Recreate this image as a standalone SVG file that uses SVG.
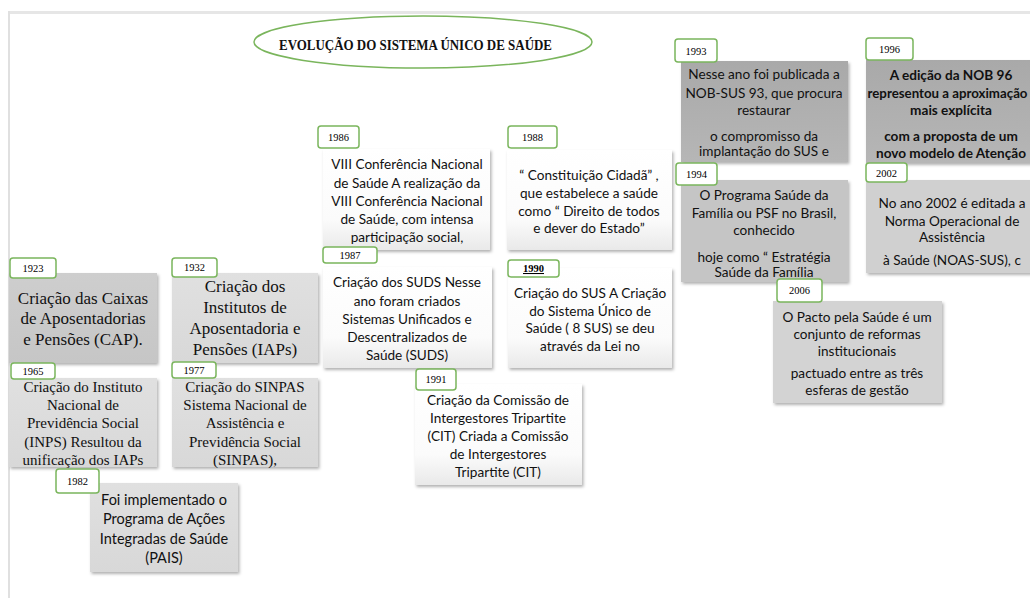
<svg xmlns="http://www.w3.org/2000/svg" width="1030" height="598" viewBox="0 0 1030 598">
<defs>
<filter id="sh" x="-10%" y="-10%" width="125%" height="130%">
<feDropShadow dx="1.5" dy="2" stdDeviation="1.4" flood-color="#000" flood-opacity="0.3"/>
</filter>
<linearGradient id="gW" x1="0" y1="0" x2="0" y2="1"><stop offset="0" stop-color="#ffffff"/><stop offset="0.7" stop-color="#fbfbfb"/><stop offset="1" stop-color="#e9e9e9"/></linearGradient>
<linearGradient id="gMid" x1="0" y1="0" x2="0" y2="1"><stop offset="0" stop-color="#cecece"/><stop offset="1" stop-color="#c6c6c6"/></linearGradient>
<linearGradient id="gLt" x1="0" y1="0" x2="0" y2="1"><stop offset="0" stop-color="#e0e0e0"/><stop offset="1" stop-color="#d8d8d8"/></linearGradient>
<linearGradient id="gDk" x1="0" y1="0" x2="0" y2="1"><stop offset="0" stop-color="#a9a9a9"/><stop offset="1" stop-color="#b6b6b6"/></linearGradient>
</defs>
<style>
.lab{fill:#ffffff;stroke:#7ab55c;stroke-width:1.5}
.labt{font-family:"Liberation Serif",serif;font-size:10.5px;fill:#000;text-anchor:middle}
.bx{filter:url(#sh)}
.w{fill:url(#gW)}
.mid{fill:url(#gMid)}
.lt{fill:url(#gLt)}
.dk{fill:url(#gDk)}
.serif17{font-family:"Liberation Serif",serif;font-size:17px;fill:#111;text-anchor:middle}
.serif15{font-family:"Liberation Serif",serif;font-size:15px;fill:#111;text-anchor:middle}
.sans{font-family:Lato,"Open Sans",sans-serif;font-size:13.6px;fill:#111;text-anchor:middle}
.sans15{font-family:Lato,"Open Sans",sans-serif;font-size:14.5px;fill:#111;text-anchor:middle}
.b{font-weight:bold}
</style>
<rect x="8" y="11" width="1022" height="3" fill="#e6e6e6"/>
<rect x="8" y="11" width="2" height="587" fill="#e0e0e0"/>

<g id="title">
<ellipse cx="423" cy="42" rx="169" ry="26" fill="#ffffff" stroke="#7ab55c" stroke-width="1.5"/>
<text x="415.5" y="50" font-family="'Liberation Serif',serif" font-size="14.5" font-weight="bold" text-anchor="middle" textLength="273" lengthAdjust="spacingAndGlyphs" fill="#111">EVOLUÇÃO DO  SISTEMA ÚNICO DE SAÚDE</text>
</g>

<g id="connectors"></g>

<g id="n1923">
<rect class="bx mid" x="9" y="273" width="148" height="90"/>
<rect class="lab" x="10" y="258" width="46" height="20" rx="3"/>
<text class="labt" x="33" y="272">1923</text>
<text class="serif17" x="83"><tspan x="83" y="304">Criação das Caixas</tspan><tspan x="83" y="324">de Aposentadorias</tspan><tspan x="83" y="345">e Pensões (CAP).</tspan></text>
</g>

<g id="n1932">
<rect class="bx lt" x="172" y="273" width="146" height="90"/>
<rect class="lab" x="172" y="258" width="45" height="19" rx="3"/>
<text class="labt" x="194.5" y="271">1932</text>
<text class="serif17"><tspan x="245" y="292">Criação dos</tspan><tspan x="245" y="313">Institutos de</tspan><tspan x="245" y="334">Aposentadoria e</tspan><tspan x="245" y="355">Pensões (IAPs)</tspan></text>
</g>

<g id="n1965">
<rect class="bx lt" x="9" y="378" width="148" height="89"/>
<rect class="lab" x="11" y="363" width="44" height="16" rx="3"/>
<text class="labt" x="33" y="375">1965</text>
<text class="serif15"><tspan x="83" y="392">Criação do Instituto</tspan><tspan x="83" y="410">Nacional de</tspan><tspan x="83" y="428">Previdência Social</tspan><tspan x="83" y="447">(INPS) Resultou da</tspan><tspan x="83" y="465">unificação dos IAPs</tspan></text>
</g>

<g id="n1977">
<rect class="bx lt" x="172" y="378" width="146" height="89"/>
<rect class="lab" x="172" y="362" width="44" height="16" rx="3"/>
<text class="labt" x="194" y="374">1977</text>
<text class="serif15"><tspan x="245" y="392">Criação do SINPAS</tspan><tspan x="245" y="410">Sistema Nacional de</tspan><tspan x="245" y="428">Assistência e</tspan><tspan x="245" y="447">Previdência Social</tspan><tspan x="245" y="465">(SINPAS),</tspan></text>
</g>

<g id="n1982">
<rect class="bx lt" x="90" y="483" width="148" height="89"/>
<rect class="lab" x="56" y="469" width="43" height="24" rx="3"/>
<text class="labt" x="77.5" y="485">1982</text>
<text class="sans15"><tspan x="164" y="505">Foi implementado o</tspan><tspan x="164" y="524">Programa de Ações</tspan><tspan x="164" y="544">Integradas de Saúde</tspan><tspan x="164" y="563">(PAIS)</tspan></text>
</g>

<g id="n1986">
<rect class="bx w" x="323" y="149" width="167" height="101"/>
<rect class="lab" x="318" y="126" width="41" height="22" rx="3"/>
<text class="labt" x="338.5" y="141">1986</text>
<text class="sans"><tspan x="407" y="169">VIII Conferência Nacional</tspan><tspan x="407" y="188">de Saúde A realização da</tspan><tspan x="407" y="206">VIII Conferência Nacional</tspan><tspan x="407" y="224">de Saúde, com intensa</tspan><tspan x="407" y="242">participação social,</tspan></text>
</g>

<g id="n1987">
<rect class="bx w" x="323" y="267" width="169" height="101"/>
<rect class="lab" x="323" y="247" width="54" height="16" rx="3"/>
<text class="labt" x="350" y="259">1987</text>
<text class="sans"><tspan x="407" y="287">Criação dos SUDS Nesse</tspan><tspan x="407" y="306">ano foram criados</tspan><tspan x="407" y="324">Sistemas Unificados e</tspan><tspan x="407" y="342">Descentralizados de</tspan><tspan x="407" y="360">Saúde (SUDS)</tspan></text>
</g>

<g id="n1988">
<rect class="bx w" x="507" y="150" width="165" height="100"/>
<rect class="lab" x="508" y="126" width="49" height="22" rx="3"/>
<text class="labt" x="532.5" y="141">1988</text>
<text class="sans"><tspan x="589" y="180">“ Constituição Cidadã” ,</tspan><tspan x="589" y="198">que estabelece a saúde</tspan><tspan x="589" y="216">como  “ Direito de todos</tspan><tspan x="589" y="233">e dever do Estado”</tspan></text>
</g>

<g id="n1990">
<rect class="bx w" x="508" y="268" width="164" height="100"/>
<rect class="lab" x="508" y="260" width="51" height="17" rx="3"/>
<text class="labt b" x="533.5" y="272" text-decoration="underline">1990</text>
<text class="sans"><tspan x="590" y="298">Criação do SUS A Criação</tspan><tspan x="590" y="316">do Sistema Único de</tspan><tspan x="590" y="333">Saúde ( 8 SUS) se deu</tspan><tspan x="590" y="351">através da Lei no</tspan></text>
</g>

<g id="n1991">
<rect class="bx w" x="415" y="384" width="167" height="101"/>
<rect class="lab" x="416" y="369" width="40" height="21" rx="3"/>
<text class="labt" x="436" y="383">1991</text>
<text class="sans"><tspan x="498" y="405">Criação da Comissão de</tspan><tspan x="498" y="423">Intergestores Tripartite</tspan><tspan x="498" y="441">(CIT) Criada a Comissão</tspan><tspan x="498" y="459">de Intergestores</tspan><tspan x="498" y="477">Tripartite (CIT)</tspan></text>
</g>

<g id="n1993">
<rect class="bx dk" x="681" y="61" width="167" height="101"/>
<rect class="lab" x="675" y="39" width="42" height="23" rx="3"/>
<text class="labt" x="696" y="55">1993</text>
<text class="sans"><tspan x="764" y="79">Nesse ano foi publicada a</tspan><tspan x="764" y="98">NOB-SUS 93, que procura</tspan><tspan x="764" y="115">restaurar</tspan><tspan x="764" y="141">o compromisso da</tspan><tspan x="764" y="156">implantação do SUS e</tspan></text>
</g>

<g id="n1994">
<rect class="bx" x="681" y="180" width="167" height="102" fill="#c5c5c5"/>
<rect class="lab" x="676" y="163" width="41" height="22" rx="3"/>
<text class="labt" x="696.5" y="178">1994</text>
<text class="sans"><tspan x="764" y="200">O Programa Saúde da</tspan><tspan x="764" y="218">Família ou PSF no Brasil,</tspan><tspan x="764" y="235">conhecido</tspan><tspan x="764" y="262">hoje como  “ Estratégia</tspan><tspan x="764" y="277">Saúde da Família</tspan></text>
</g>

<g id="n1996">
<rect class="bx dk" x="866" y="60" width="170" height="103"/>
<rect class="lab" x="866" y="38" width="47" height="22" rx="3"/>
<text class="labt" x="889.5" y="53">1996</text>
<text class="sans b"><tspan x="951" y="80">A edição da NOB 96</tspan><tspan x="951" y="115">mais explícita</tspan><tspan x="951" y="141">com a proposta de um</tspan><tspan x="951" y="158">novo modelo de Atenção</tspan></text>
<text class="sans b" x="947.5" y="98" textLength="160" lengthAdjust="spacingAndGlyphs">representou a aproximação</text>
</g>

<g id="n2002">
<rect class="bx" x="866" y="180" width="170" height="93" fill="#d0d0d0"/>
<rect class="lab" x="866" y="163" width="41" height="19" rx="3"/>
<text class="labt" x="886.5" y="177">2002</text>
<text class="sans"><tspan x="952" y="208">No ano 2002 é editada a</tspan><tspan x="952" y="226">Norma Operacional de</tspan><tspan x="952" y="242">Assistência</tspan><tspan x="952" y="265">à Saúde (NOAS-SUS), c</tspan></text>
</g>

<g id="n2006">
<rect class="bx" x="773" y="301" width="169" height="102" fill="#d3d3d3"/>
<rect class="lab" x="777" y="279" width="45" height="23" rx="3"/>
<text class="labt" x="799.5" y="294">2006</text>
<text class="sans"><tspan x="857" y="322">O Pacto pela Saúde é um</tspan><tspan x="857" y="339">conjunto de reformas</tspan><tspan x="857" y="356">institucionais</tspan><tspan x="857" y="378">pactuado entre as três</tspan><tspan x="857" y="395">esferas de gestão</tspan></text>
</g>
</svg>
